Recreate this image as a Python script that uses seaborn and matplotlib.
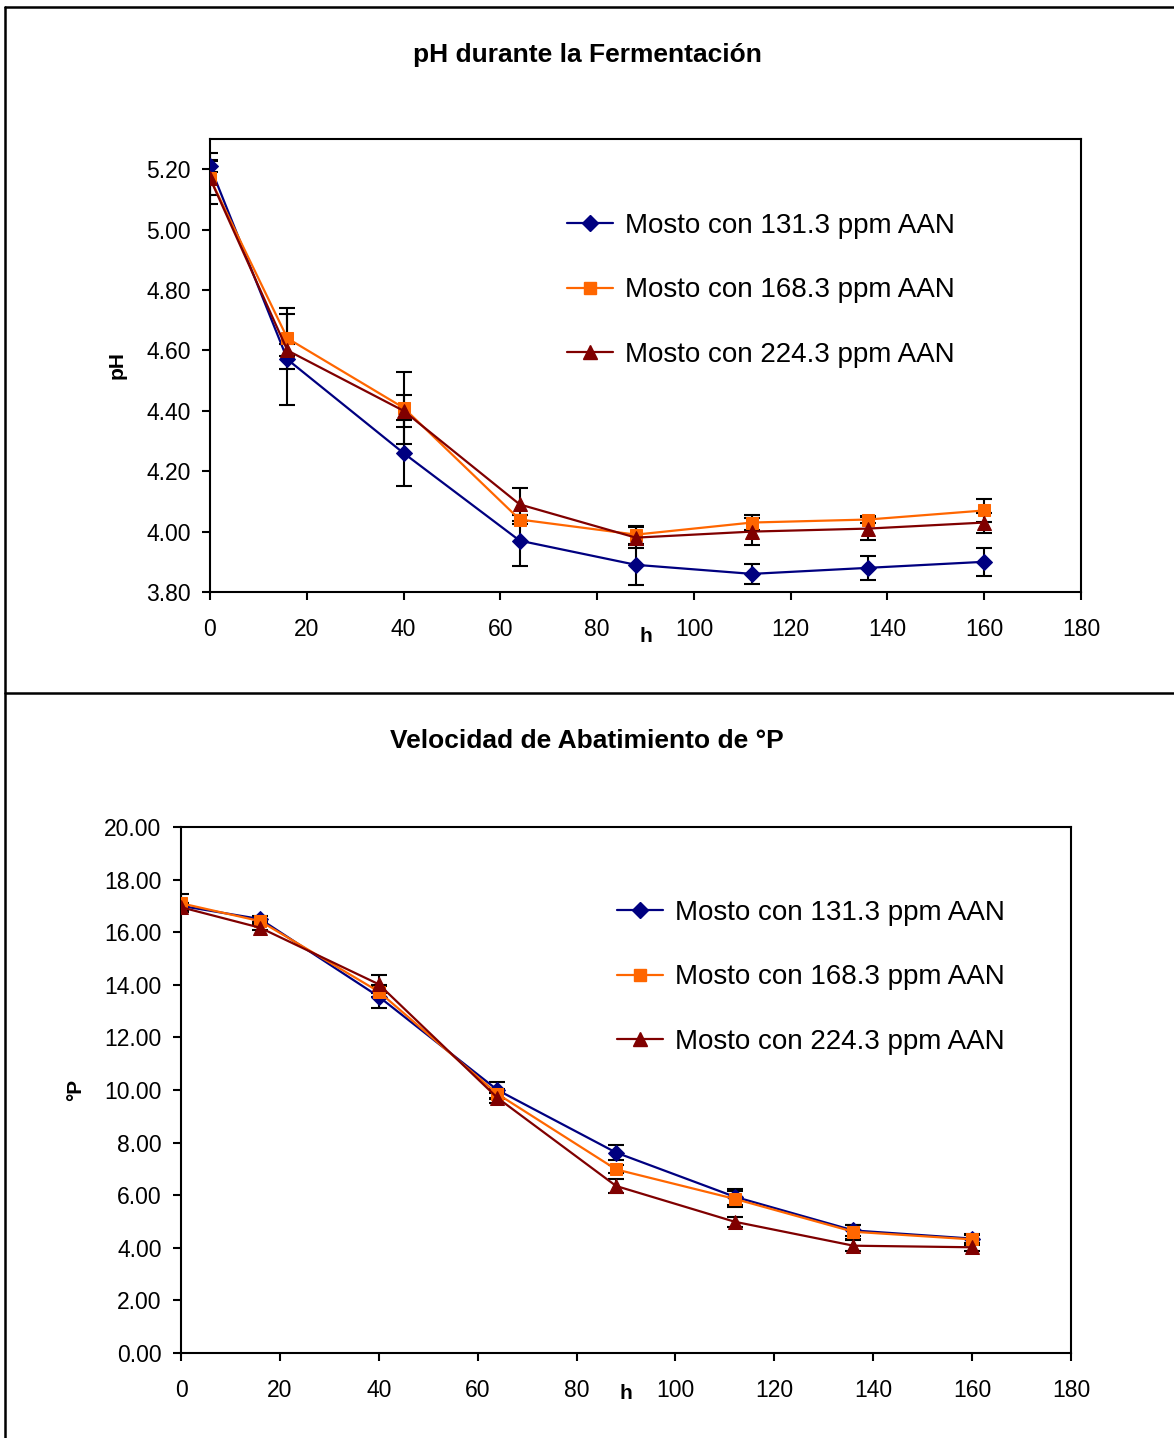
import numpy as np
import pandas as pd
import matplotlib
matplotlib.use("Agg")
import matplotlib.pyplot as plt
from matplotlib.lines import Line2D
from matplotlib.ticker import FormatStrFormatter, MultipleLocator
import seaborn as sns

# ---------------- data ----------------
hours = [0, 16, 40, 64, 88, 112, 136, 160]
series_labels = ["Mosto con 131.3 ppm AAN", "Mosto con 168.3 ppm AAN", "Mosto con 224.3 ppm AAN"]

ph_131 = [5.21, 4.57, 4.26, 3.97, 3.89, 3.86, 3.88, 3.90]
ph_168 = [5.17, 4.64, 4.41, 4.04, 3.99, 4.03, 4.04, 4.07]
ph_224 = [5.17, 4.60, 4.40, 4.09, 3.98, 4.00, 4.01, 4.03]
ph_err_131 = [0.02, 0.15, 0.11, 0.085, 0.066, 0.033, 0.039, 0.046]
ph_err_168 = [0.084, 0.10, 0.12, 0.015, 0.03, 0.026, 0.012, 0.038]
ph_err_224 = [0.056, 0.02, 0.053, 0.055, 0.035, 0.044, 0.039, 0.033]

p_131 = [17.0, 16.5, 13.55, 10.0, 7.62, 5.94, 4.66, 4.35]
p_168 = [17.1, 16.42, 13.74, 9.85, 6.98, 5.86, 4.61, 4.32]
p_224 = [16.95, 16.17, 14.02, 9.7, 6.35, 4.99, 4.08, 4.02]
p_err_131 = [0.1, 0.1, 0.44, 0.3, 0.29, 0.3, 0.2, 0.15]
p_err_168 = [0.35, 0.1, 0.2, 0.2, 0.15, 0.3, 0.26, 0.2]
p_err_224 = [0.15, 0.1, 0.35, 0.2, 0.25, 0.19, 0.22, 0.15]

colors = ["#000080", "#FF6600", "#800000"]
markers = ["D", "s", "^"]
msizes = [8.5, 9, 10]

sns.set_style("white")
plt.rcParams["font.family"] = ["Liberation Sans", "DejaVu Sans"]
for k in ["text.color", "axes.labelcolor", "xtick.color", "ytick.color"]:
    plt.rcParams[k] = "black"

fig = plt.figure(figsize=(11.74, 14.38), dpi=100)
ax1 = fig.add_axes([210/1174, 1-592/1438, 871/1174, 453/1438])
ax2 = fig.add_axes([181/1174, 1-1353/1438, 890/1174, 526/1438])


def draw(ax, vals, errs, title, ylabel, ylim, ystep, legend_anchor, title_y,
         xlabelpad):
    df = pd.DataFrame({
        "h": hours * 3,
        "v": vals[0] + vals[1] + vals[2],
        "serie": sum([[lab] * len(hours) for lab in series_labels], []),
    })
    sns.lineplot(data=df, x="h", y="v", hue="serie", style="serie",
                 palette=dict(zip(series_labels, colors)),
                 markers=dict(zip(series_labels, markers)),
                 dashes=False, ax=ax, legend=False, linewidth=1.6, zorder=3)
    lines = list(ax.lines)
    for ln, ms in zip(lines, msizes):
        ln.set_markeredgecolor(ln.get_color())
        ln.set_markerfacecolor(ln.get_color())
        ln.set_markersize(ms)
    for v, e in zip(vals, errs):
        ax.errorbar(hours, v, yerr=e, fmt="none", ecolor="black",
                    elinewidth=1.5, capsize=6, capthick=1.5, zorder=2)
    ax.set_xlim(0, 180)
    ax.set_ylim(*ylim)
    ax.xaxis.set_major_locator(MultipleLocator(20))
    ax.yaxis.set_major_locator(MultipleLocator(ystep))
    ax.yaxis.set_major_formatter(FormatStrFormatter("%.2f"))
    for s in ax.spines.values():
        s.set_visible(True)
        s.set_color("black")
        s.set_linewidth(1.5)
    ax.tick_params(axis="both", which="major", direction="out", length=6,
                   width=1.5, color="black", labelsize=16.5, pad=8,
                   bottom=True, left=True)
    ax.tick_params(axis="x", pad=13)
    ax.set_xlabel("h", fontsize=15, fontweight="bold", labelpad=xlabelpad)
    ax.set_ylabel(ylabel, fontsize=15, fontweight="bold", labelpad=14)
    handles = [Line2D([], [], color=c, marker=m, markersize=ms, linewidth=1.6)
               for c, m, ms in zip(colors, markers, msizes)]
    ax.legend(handles, series_labels, loc="upper left",
              bbox_to_anchor=legend_anchor, frameon=False,
              fontsize=20, handlelength=1.65, handletextpad=0.45,
              labelspacing=1.38, borderaxespad=0)
    fig.text(0.5, title_y, title, ha="center", va="center",
             fontsize=19, fontweight="bold")


draw(ax1, [ph_131, ph_168, ph_224], [ph_err_131, ph_err_168, ph_err_224],
     "pH durante la Fermentación", "pH", (3.8, 5.3), 0.2,
     ((556-210)/871, 1-(202-139)/453), 1-55/1438, -10)
draw(ax2, [p_131, p_168, p_224], [p_err_131, p_err_168, p_err_224],
     "Velocidad de Abatimiento de °P", "°P", (0, 20), 2,
     ((606-181)/890, 1-(889-827)/526), 1-741/1438, -13)

# frame lines of the original document table
fig.add_artist(Line2D([5/1174, 1], [1-7/1438, 1-7/1438], color="black", lw=1.8,
                      transform=fig.transFigure))
fig.add_artist(Line2D([5/1174, 1], [1-693/1438, 1-693/1438], color="black", lw=1.8,
                      transform=fig.transFigure))
fig.add_artist(Line2D([5/1174, 5/1174], [0, 1-7/1438], color="black", lw=1.8,
                      transform=fig.transFigure))

fig.savefig("out.png", dpi=100)
